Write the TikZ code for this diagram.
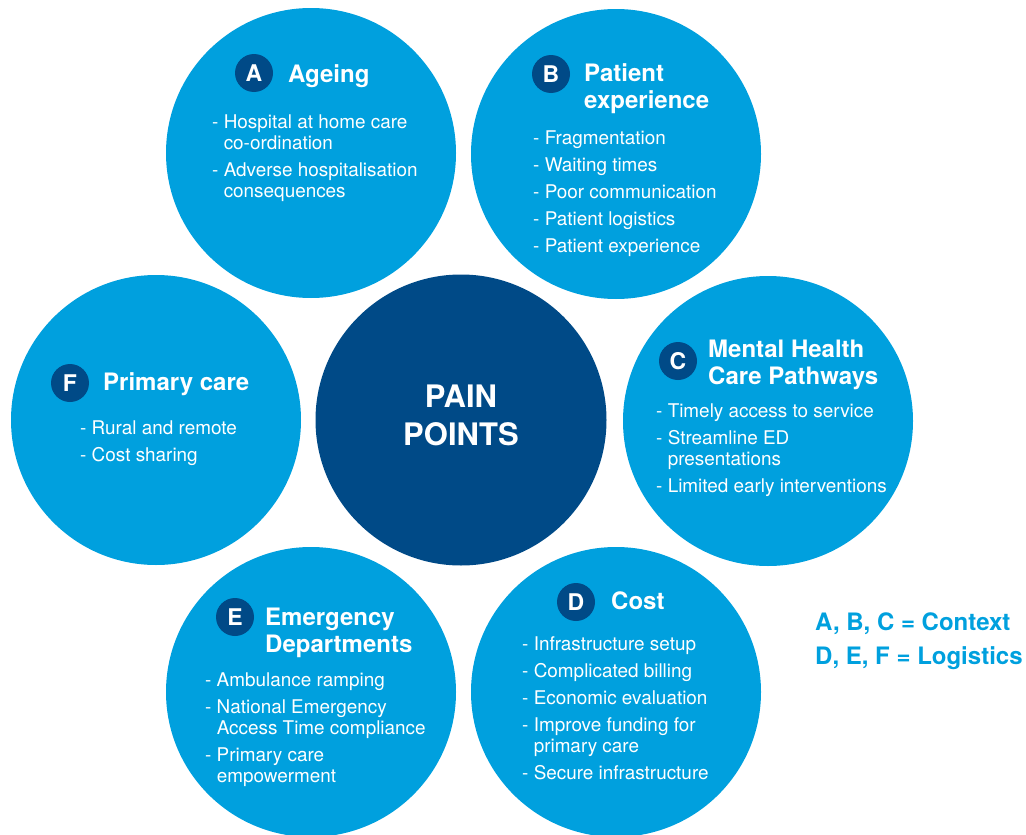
\documentclass[tikz,border=0pt]{standalone}
\usepackage{fontspec}
\setmainfont{TeX Gyre Heros}
\definecolor{lightblue}{RGB}{0,160,222}
\definecolor{darkblue}{RGB}{0,74,135}
\tikzset{
  bubble/.style={circle, fill=lightblue, minimum size=290pt, inner sep=0pt},
  core/.style={circle, fill=darkblue, minimum size=291pt, inner sep=0pt},
  badge/.style={circle, fill=darkblue, minimum size=38pt, inner sep=0pt, text=white, font=\fontsize{23}{23}\selectfont\bfseries},
  heading/.style={text=white, font=\fontsize{24}{27}\selectfont\bfseries, align=left, inner sep=0pt},
  items/.style={text=white, font=\fontsize{18.9}{21}\selectfont, align=left, inner sep=0pt},
  legendtext/.style={text=lightblue, font=\fontsize{24}{34}\selectfont\bfseries, align=left, inner sep=0pt},
  coretext/.style={text=white, font=\fontsize{31}{38}\selectfont\bfseries, align=center, inner sep=0pt},
}
\newcommand{\cont}{\hphantom{-\ }}
\begin{document}
\begin{tikzpicture}[x=1pt,y=-1pt]
\useasboundingbox (0,0) rectangle (1026,835);
\clip (0,0) rectangle (1026,835);

% circles
\node[core] (P) at (461,420) {};
\node[bubble] (A) at (311,153) {};
\node[bubble] (B) at (616,154) {};
\node[bubble] (C) at (768,421) {};
\node[bubble] (D) at (616,692) {};
\node[bubble] (E) at (311,692) {};
\node[bubble] (F) at (156,420) {};

% centre
\node[coretext, anchor=north] (Pt) at (461,384.7) {PAIN\\POINTS};

% A
\node[badge] (Ab) at (254,73) {A};
\node[heading, anchor=base west] (Ah) at (288,82) {Ageing};
\node[items, anchor=north west] (Ai) at (212,114.4) {- Hospital at home care\\\cont co-ordination\\[6pt]- Adverse hospitalisation\\\cont consequences};

% B
\node[badge] (Bb) at (551,74) {B};
\node[heading, anchor=north west] (Bh) at (584,63.8) {Patient\\experience};
\node[items, anchor=north west] (Bi) at (533,130.4) {- Fragmentation\\[6pt]- Waiting times\\[6pt]- Poor communication\\[6pt]- Patient logistics\\[6pt]- Patient experience};

% C
\node[badge] (Cb) at (678,361) {C};
\node[heading, anchor=north west] (Ch) at (708,339.8) {Mental Health\\Care Pathways};
\node[items, anchor=north west] (Ci) at (656,403.4) {- Timely access to service\\[6pt]- Streamline ED\\\cont presentations\\[6pt]- Limited early interventions};

% D
\node[badge] (Db) at (576,602) {D};
\node[heading, anchor=base west] (Dh) at (611,609) {Cost};
\node[items, anchor=north west] (Di) at (522,636.4) {- Infrastructure setup\\[6pt]- Complicated billing\\[6pt]- Economic evaluation\\[6pt]- Improve funding for\\\cont primary care\\[6pt]- Secure infrastructure};

% E
\node[badge] (Eb) at (235,617) {E};
\node[heading, anchor=north west] (Eh) at (265,607.8) {Emergency\\Departments};
\node[items, anchor=north west] (Ei) at (205,672.4) {- Ambulance ramping\\[6pt]- National Emergency\\\cont Access Time compliance\\[6pt]- Primary care\\\cont empowerment};

% F
\node[badge] (Fb) at (70,383) {F};
\node[heading, anchor=base west] (Fh) at (103,390) {Primary care};
\node[items, anchor=north west] (Fi) at (80,420.4) {- Rural and remote\\[6pt]- Cost sharing};

% legend
\node[legendtext, anchor=north west] (L) at (815,612.8) {A, B, C = Context\\D, E, F = Logistics};
\end{tikzpicture}
\end{document}
